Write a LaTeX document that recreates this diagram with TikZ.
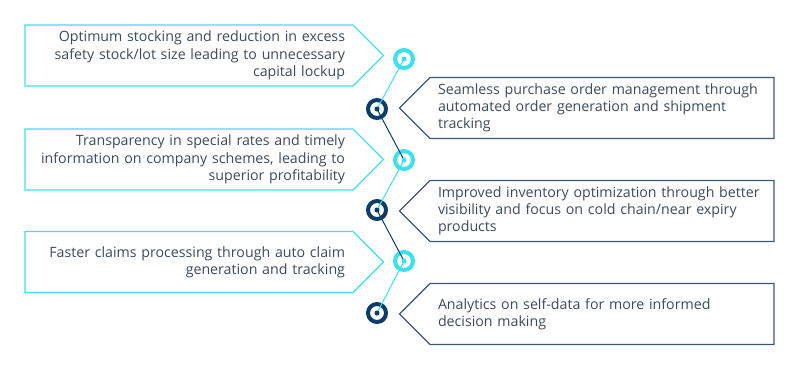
\documentclass[tikz,border=0pt]{standalone}
\usepackage{fontspec}
\setmainfont{Open Sans}
\usepackage{tikz}
\usetikzlibrary{shapes.symbols}
\definecolor{aqua}{HTML}{3EE1EA}
\definecolor{navy}{HTML}{0C3D68}
\definecolor{slate}{HTML}{3C5872}
\definecolor{ink}{HTML}{3B4B5C}

\begin{document}
\begin{tikzpicture}[x=1pt,y=-1pt,
    lbox/.style={signal,signal to=east,draw=aqua,line width=1.1pt,
      align=right,text=ink,font=\fontsize{14.2}{17.3}\selectfont,
      text width=312pt,inner xsep=8pt,minimum height=61pt},
    rbox/.style={signal,signal to=west,draw=slate,line width=1.1pt,
      align=left,text=ink,font=\fontsize{14.2}{17.3}\selectfont,
      text width=328pt,inner xsep=8pt,minimum height=61pt},
    cring/.style={circle,draw=aqua,line width=4pt,minimum size=18pt,inner sep=0pt},
    dring/.style={circle,draw=navy,line width=4pt,minimum size=18pt,inner sep=0pt},
    cl/.style={aqua,line width=1pt},
    dl/.style={navy,line width=1pt}]
    \useasboundingbox (0,0) rectangle (800,368);
    \node[lbox] (l1) at (189,55.5) {Optimum stocking and reduction in excess\\safety stock/lot size leading to unnecessary\\capital lockup};
    \node[lbox] (l2) at (189,159.5) {Transparency in special rates and timely\\information on company schemes, leading to\\superior profitability};
    \node[lbox] (l3) at (189,262) {Faster claims processing through auto claim\\generation and tracking};
    \node[rbox] (r1) at (602,108) {Seamless purchase order management through\\automated order generation and shipment\\tracking};
    \node[rbox] (r2) at (602,211) {Improved inventory optimization through better\\visibility and focus on cold chain/near expiry\\products};
    \node[rbox] (r3) at (602,314) {Analytics on self-data for more informed\\decision making};
    \node[cring] (c1) at (404,59) {};
    \node[dring] (d1) at (377,109) {};
    \node[cring] (c2) at (404,160) {};
    \node[dring] (d2) at (377,210) {};
    \node[cring] (c3) at (404,261) {};
    \node[dring] (d3) at (377,313) {};
    \draw[cl](c1.center)--(d1.center);\draw[dl](d1.center)--(c2.center);
    \draw[cl](c2.center)--(d2.center);\draw[dl](d2.center)--(c3.center);
    \draw[cl](c3.center)--(d3.center);
    \foreach \n in {c1,c2,c3} \fill[aqua] (\n) circle (2.5);
    \foreach \n in {d1,d2,d3} \fill[navy] (\n) circle (2.5);
  \end{tikzpicture}
\end{document}
